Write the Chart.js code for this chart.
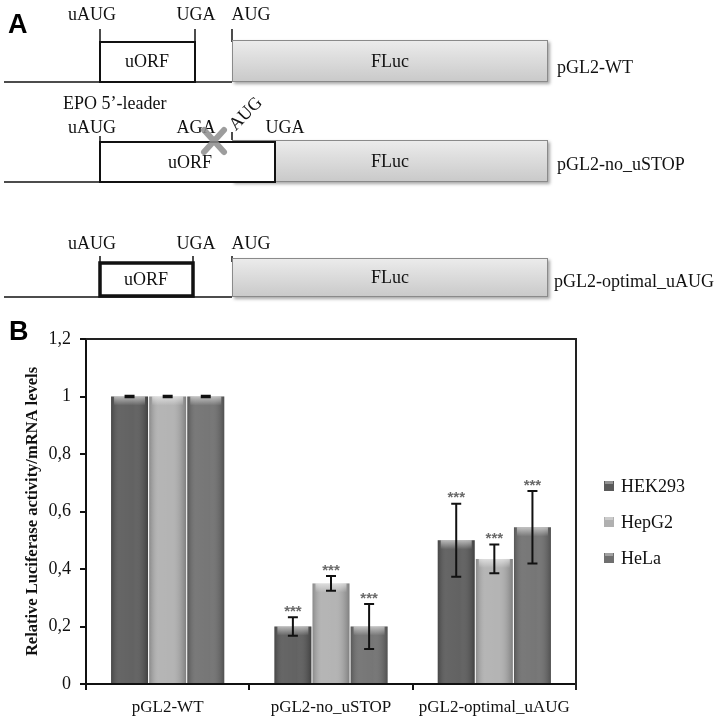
<!DOCTYPE html>
<html>
<head>
<meta charset="utf-8">
<script src="https://cdn.jsdelivr.net/npm/chart.js@4"></script>
<style>
  body { margin: 0; background: #fff; }
  canvas { display: block; }
</style>
</head>
<body>
<canvas id="fig" width="724" height="718"></canvas>
<script>
// values
const categories = ['pGL2-WT', 'pGL2-no_uSTOP', 'pGL2-optimal_uAUG'];
const cellLines = ['HEK293', 'HepG2', 'HeLa'];
const hek293 = [1, 0.2, 0.5];
const hepg2 = [1, 0.35, 0.435];
const hela = [1, 0.2, 0.545];
const hek293Err = [0.003, 0.032, 0.127];
const hepg2Err = [0.003, 0.026, 0.05];
const helaErr = [0.003, 0.078, 0.126];
const stars = ['', '***', '***'];
const yTicks = [0, 0.2, 0.4, 0.6, 0.8, 1, 1.2];

const barColors = ['#5a5a5a', '#b0b0b0', '#6f6f6f'];
const errs = [hek293Err, hepg2Err, helaErr];

const serif = '"Liberation Serif", "DejaVu Serif", serif';

// panel A: construct schematics
function drawPanelA(ctx) {
  ctx.save();
  ctx.fillStyle = '#000';
  ctx.font = 'bold 27px "Liberation Sans", sans-serif';
  ctx.textBaseline = 'alphabetic';
  ctx.fillText('A', 8, 33);
  ctx.fillText('B', 9, 340);

  const txt = (s, x, y, align) => {
    ctx.font = '18px ' + serif;
    ctx.fillStyle = '#111';
    ctx.textAlign = align || 'center';
    ctx.textBaseline = 'middle';
    ctx.fillText(s, x, y);
  };
  const fluc = (x1, y1, x2, y2) => {
    ctx.save();
    ctx.shadowColor = 'rgba(0,0,0,0.35)';
    ctx.shadowOffsetX = 2;
    ctx.shadowOffsetY = 2;
    ctx.shadowBlur = 3;
    const g = ctx.createLinearGradient(0, y1, 0, y2);
    g.addColorStop(0, '#ececec');
    g.addColorStop(1, '#c9c9c9');
    ctx.fillStyle = g;
    ctx.fillRect(x1, y1, x2 - x1, y2 - y1);
    ctx.restore();
    ctx.strokeStyle = '#8a8a8a';
    ctx.lineWidth = 1;
    ctx.strokeRect(x1 + 0.5, y1 + 0.5, x2 - x1 - 1, y2 - y1 - 1);
    txt('FLuc', (x1 + x2) / 2, (y1 + y2) / 2 + 1);
  };
  const line = (x1, y1, x2, y2, w) => {
    ctx.strokeStyle = '#111';
    ctx.lineWidth = w || 1.5;
    ctx.beginPath();
    ctx.moveTo(x1, y1);
    ctx.lineTo(x2, y2);
    ctx.stroke();
  };
  const uorf = (x1, y1, x2, y2, w) => {
    ctx.fillStyle = '#fff';
    ctx.fillRect(x1, y1, x2 - x1, y2 - y1);
    ctx.strokeStyle = '#111';
    ctx.lineWidth = w;
    ctx.strokeRect(x1, y1, x2 - x1, y2 - y1);
  };

  // row 1 - pGL2-WT
  txt('uAUG', 92, 15);
  txt('UGA', 196, 15);
  txt('AUG', 251, 15);
  line(100, 29, 100, 42);
  line(195, 29, 195, 42);
  line(232, 29, 232, 42);
  line(4, 82, 232, 82);
  uorf(100, 42, 195, 82, 2);
  txt('uORF', 147, 62);
  fluc(232, 40, 548, 82);
  txt('pGL2-WT', 557, 68, 'left');
  txt('EPO 5\u2019-leader', 63, 104, 'left');

  // row 2 - pGL2-no_uSTOP
  txt('uAUG', 92, 128);
  txt('AGA', 196, 128);
  txt('UGA', 285, 128);
  ctx.save();
  ctx.translate(246, 114);
  ctx.rotate(-0.8);
  txt('AUG', 0, 0);
  ctx.restore();
  line(100, 136, 100, 142);
  line(232, 132, 232, 140);
  line(4, 182, 232, 182);
  fluc(232, 140, 548, 182);
  uorf(100, 142, 275, 182, 2);
  txt('uORF', 190, 163);
  // crossed-out stop codon
  ctx.save();
  ctx.strokeStyle = 'rgba(140,140,140,0.85)';
  ctx.lineWidth = 6;
  ctx.lineCap = 'round';
  ctx.beginPath();
  ctx.moveTo(204, 130); ctx.lineTo(224, 152);
  ctx.moveTo(224, 130); ctx.lineTo(204, 152);
  ctx.stroke();
  ctx.restore();
  txt('pGL2-no_uSTOP', 557, 165, 'left');

  // row 3 - pGL2-optimal_uAUG
  txt('uAUG', 92, 244);
  txt('UGA', 196, 244);
  txt('AUG', 251, 244);
  line(100, 256, 100, 262);
  line(193, 256, 193, 262);
  line(232, 256, 232, 262);
  line(4, 297, 232, 297);
  uorf(100, 263, 193, 296, 3.5);
  txt('uORF', 146, 280);
  fluc(232, 258, 548, 297);
  txt('pGL2-optimal_uAUG', 554, 282, 'left');
  ctx.restore();
}

const figurePlugin = {
  id: 'figure',
  beforeDraw(chart) {
    const ctx = chart.ctx;
    ctx.save();
    ctx.fillStyle = '#fff';
    ctx.fillRect(0, 0, chart.width, chart.height);
    ctx.restore();
    drawPanelA(ctx);
  },
  afterDatasetsDraw(chart) {
    const ctx = chart.ctx;
    const y = chart.scales.y;
    const area = chart.chartArea;
    ctx.save();
    chart.data.datasets.forEach((ds, di) => {
      chart.getDatasetMeta(di).data.forEach((bar, i) => {
        const left = bar.x - bar.width / 2;
        const top = bar.y;
        const h = bar.base - bar.y;
        // horizontal shading for the rounded look
        const g = ctx.createLinearGradient(left, 0, left + bar.width, 0);
        g.addColorStop(0, 'rgba(0,0,0,0.22)');
        g.addColorStop(0.25, 'rgba(255,255,255,0.07)');
        g.addColorStop(0.6, 'rgba(255,255,255,0.05)');
        g.addColorStop(1, 'rgba(0,0,0,0.28)');
        ctx.fillStyle = g;
        ctx.fillRect(left, top, bar.width, h);
        // bevel on top
        const gt = ctx.createLinearGradient(0, top, 0, top + 9);
        gt.addColorStop(0, 'rgba(255,255,255,0.55)');
        gt.addColorStop(1, 'rgba(255,255,255,0)');
        ctx.fillStyle = gt;
        ctx.fillRect(left + 3, top, bar.width - 6, 9);

        // error bars
        const v = ds.data[i];
        const e = errs[di][i];
        const yHi = y.getPixelForValue(v + e);
        const yLo = y.getPixelForValue(v - e);
        ctx.strokeStyle = '#111';
        ctx.lineWidth = 2;
        ctx.beginPath();
        ctx.moveTo(bar.x, yHi); ctx.lineTo(bar.x, yLo);
        ctx.moveTo(bar.x - 5, yHi); ctx.lineTo(bar.x + 5, yHi);
        ctx.moveTo(bar.x - 5, yLo); ctx.lineTo(bar.x + 5, yLo);
        ctx.stroke();

        if (stars[i]) {
          ctx.fillStyle = '#6a6a6a';
          ctx.font = 'bold 15px "Liberation Sans", sans-serif';
          ctx.textAlign = 'center';
          ctx.textBaseline = 'bottom';
          ctx.fillText(stars[i], bar.x, yHi + 2);
        }
      });
    });
    // frame on top and right
    ctx.strokeStyle = '#222';
    ctx.lineWidth = 2;
    ctx.beginPath();
    ctx.moveTo(area.left, area.top);
    ctx.lineTo(area.right, area.top);
    ctx.lineTo(area.right, area.bottom + 6);
    ctx.stroke();

    // legend
    chart.data.datasets.forEach((ds, di) => {
      const cy = 486 + di * 36;
      ctx.fillStyle = ds.backgroundColor;
      ctx.fillRect(604, cy - 5, 10, 10);
      ctx.fillStyle = 'rgba(255,255,255,0.35)';
      ctx.fillRect(605, cy - 5, 8, 3);
      ctx.fillStyle = '#111';
      ctx.font = '18px ' + serif;
      ctx.textAlign = 'left';
      ctx.textBaseline = 'middle';
      ctx.fillText(ds.label, 621, cy + 1);
    });
    ctx.restore();
  }
};

new Chart(document.getElementById('fig').getContext('2d'), {
  type: 'bar',
  data: {
    labels: categories,
    datasets: [
      { label: cellLines[0], data: hek293, backgroundColor: barColors[0] },
      { label: cellLines[1], data: hepg2, backgroundColor: barColors[1] },
      { label: cellLines[2], data: hela, backgroundColor: barColors[2] }
    ]
  },
  options: {
    responsive: false,
    animation: false,
    events: [],
    barPercentage: 0.97,
    categoryPercentage: 0.7,
    layout: { padding: { top: 339, right: 148, left: 0, bottom: 0 } },
    plugins: {
      legend: { display: false },
      tooltip: { enabled: false }
    },
    scales: {
      x: {
        grid: { display: true, drawOnChartArea: false, drawTicks: true, tickLength: 6, color: '#111', lineWidth: 2 },
        border: { color: '#111', width: 2 },
        ticks: { color: '#111', padding: 7, font: { family: serif, size: 17 } },
        afterFit: (s) => { s.height = 34; }
      },
      y: {
        min: 0,
        max: 1.2,
        afterBuildTicks: (s) => { s.ticks = yTicks.map(v => ({ value: v })); },
        grid: { display: true, drawOnChartArea: false, drawTicks: true, tickLength: 6, color: '#111', lineWidth: 2 },
        border: { color: '#111', width: 2 },
        ticks: {
          color: '#111',
          padding: 9,
          font: { family: serif, size: 18 },
          callback: (v) => String(Math.round(v * 10) / 10).replace('.', ',')
        },
        title: {
          display: true,
          text: 'Relative Luciferase activity/mRNA levels',
          color: '#111',
          font: { family: serif, size: 16.5, weight: 'bold' },
          padding: { top: 23, bottom: 0 }
        },
        afterFit: (s) => { s.width = 86; }
      }
    }
  },
  plugins: [figurePlugin]
});
</script>
</body>
</html>
